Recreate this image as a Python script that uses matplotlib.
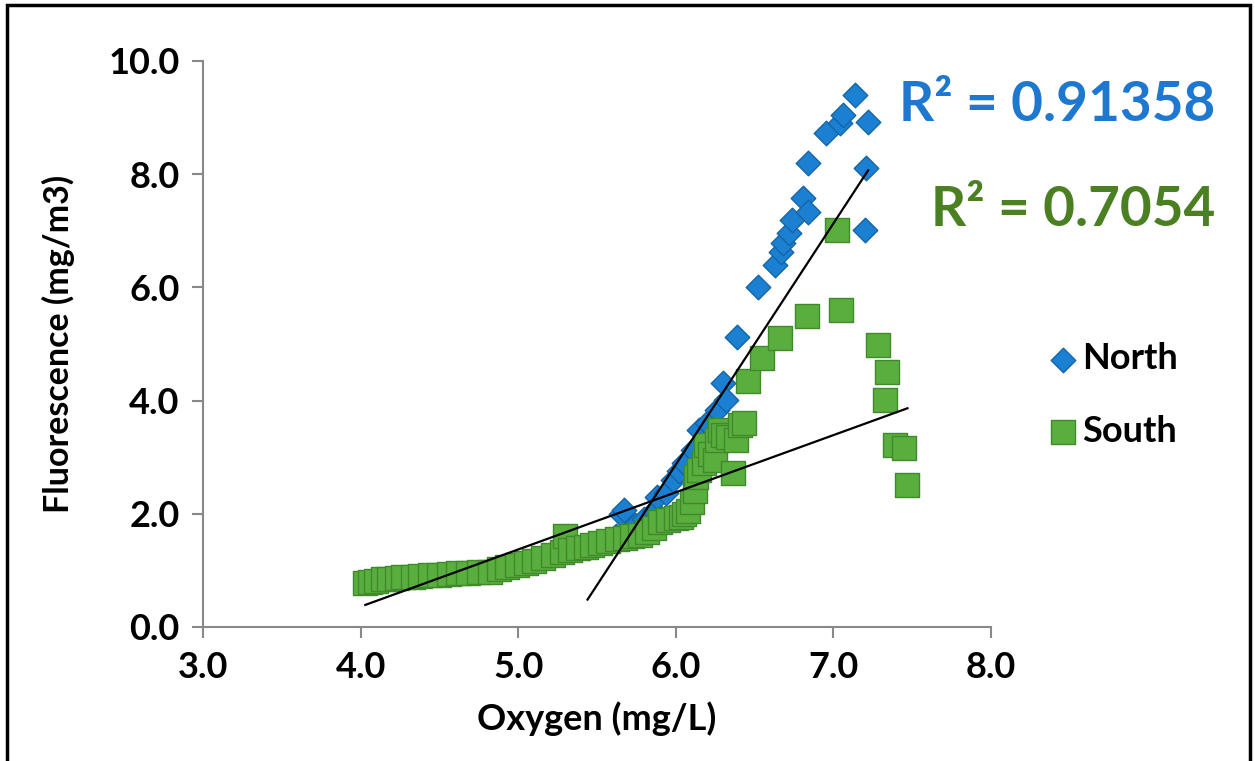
import matplotlib
matplotlib.use("Agg")
import matplotlib.pyplot as plt
from matplotlib.patches import Rectangle
import numpy as np

# ---- data ----
north_x = [5.44, 5.50, 5.56, 5.62, 5.65, 5.67, 5.74, 5.80, 5.86, 5.88, 5.94, 5.98,
           6.02, 6.05, 6.11, 6.15, 6.20, 6.26, 6.30, 6.32, 6.39, 6.52, 6.63, 6.67,
           6.68, 6.72, 6.74, 6.81, 6.84, 6.84, 6.95, 7.04, 7.06, 7.14, 7.22, 7.21, 7.20]
north_y = [1.40, 1.45, 1.50, 1.60, 2.00, 2.07, 1.80, 1.90, 2.05, 2.30, 2.37, 2.60,
           2.75, 2.90, 3.13, 3.48, 3.60, 3.83, 4.31, 4.01, 5.12, 6.01, 6.40, 6.63,
           6.78, 6.96, 7.19, 7.58, 7.33, 8.20, 8.73, 8.90, 9.05, 9.40, 8.92, 8.11, 7.01]

south_x = [4.03, 4.06, 4.10, 4.14, 4.18, 4.23, 4.27, 4.33, 4.38, 4.44, 4.50, 4.56,
           4.62, 4.68, 4.75, 4.82, 4.88, 4.93, 4.99, 5.05, 5.10, 5.16, 5.22, 5.28,
           5.30, 5.33, 5.38, 5.43, 5.47, 5.52, 5.57, 5.63, 5.68, 5.72, 5.77, 5.82,
           5.86, 5.90, 5.95, 6.00, 6.03, 6.05, 6.08, 6.10, 6.12, 6.13, 6.15, 6.18,
           6.19, 6.22, 6.25, 6.26, 6.28, 6.30, 6.33, 6.36, 6.38, 6.41, 6.43, 6.46,
           6.55, 6.66, 6.83, 7.02, 7.05, 7.28, 7.34, 7.33, 7.39, 7.45, 7.47]
south_y = [0.78, 0.80, 0.82, 0.84, 0.85, 0.87, 0.88, 0.89, 0.90, 0.91, 0.92, 0.93,
           0.95, 0.96, 0.97, 0.98, 1.02, 1.06, 1.10, 1.13, 1.17, 1.22, 1.28, 1.33,
           1.60, 1.36, 1.39, 1.42, 1.45, 1.48, 1.52, 1.55, 1.58, 1.60, 1.63, 1.68,
           1.75, 1.85, 1.89, 1.92, 1.95, 2.00, 2.05, 2.20, 2.40, 2.65, 2.77, 2.90,
           3.22, 3.05, 2.95, 3.30, 3.48, 3.40, 3.35, 2.72, 3.30, 3.57, 3.60, 4.35,
           4.75, 5.11, 5.49, 7.02, 5.60, 4.98, 4.51, 4.01, 3.22, 3.16, 2.51]

# linear trendlines (slope, intercept) and R^2 labels as shown
north_fit = (4.26, -22.69)
south_fit = (1.01, -3.68)
north_r2 = "R² = 0.91358"
south_r2 = "R² = 0.7054"

x_ticks = [3.0, 4.0, 5.0, 6.0, 7.0, 8.0]
y_ticks = [0.0, 2.0, 4.0, 6.0, 8.0, 10.0]

FONT = "Lato"
plt.rcParams['font.family'] = [FONT, 'DejaVu Sans']

fig = plt.figure(figsize=(12.55, 7.61), dpi=100)
ax = fig.add_axes([203/1255, 1-627/761, (991-203)/1255, (627-61)/761])

blue = "#1C80D2"
blue_edge = "#1565A8"
green = "#5AAE3E"
green_edge = "#3F8A2A"

ax.scatter(north_x, north_y, marker='D', s=12.5**2, c=blue, edgecolors=blue_edge,
           linewidths=1.0, zorder=2, label="North")
ax.scatter(south_x, south_y, marker='s', s=17**2, c=green, edgecolors=green_edge,
           linewidths=1.0, zorder=3, label="South")

nx = np.array([min(north_x), max(north_x)])
ax.plot(nx, north_fit[0]*nx + north_fit[1], color='black', lw=1.6, zorder=4)
sx = np.array([min(south_x), max(south_x)])
ax.plot(sx, south_fit[0]*sx + south_fit[1], color='black', lw=1.6, zorder=4)

ax.set_xlim(3.0, 8.0)
ax.set_ylim(0.0, 10.0)
ax.set_xticks(x_ticks)
ax.set_yticks(y_ticks)
ax.set_xticklabels([f"{v:.1f}" for v in x_ticks])
ax.set_yticklabels([f"{v:.1f}" for v in y_ticks])
for s in ['top', 'right']:
    ax.spines[s].set_visible(False)
for s in ['left', 'bottom']:
    ax.spines[s].set_color('#888888')
    ax.spines[s].set_linewidth(1.5)
ax.tick_params(axis='both', direction='out', length=8, width=1.5, color='#888888',
               labelsize=26, pad=9)
for lab in ax.get_xticklabels() + ax.get_yticklabels():
    lab.set_fontweight('bold')

ax.set_xlabel("Oxygen (mg/L)", fontsize=26, fontweight='bold', labelpad=13)
ax.set_ylabel("Fluorescence (mg/m3)", fontsize=24.5, fontweight='bold', labelpad=24)

fig.text(1215/1255, 1-105/761, north_r2, color="#1F78D0", fontsize=39.5,
         fontweight='bold', ha='right', va='center')
fig.text(1215/1255, 1-210/761, south_r2, color="#4A7F22", fontsize=39.5,
         fontweight='bold', ha='right', va='center')

leg = fig.legend(loc='center left', bbox_to_anchor=(1030/1255, 1-395/761),
                 frameon=False, fontsize=26, handletextpad=0.05, labelspacing=1.1,
                 borderaxespad=0, handlelength=1.0)
for t in leg.get_texts():
    t.set_fontweight('bold')

fig.add_artist(Rectangle((7/1255, -0.02), (1250-7)/1255, 1-5/761+0.02,
                         transform=fig.transFigure, fill=False, edgecolor='black',
                         linewidth=2.5))

fig.savefig("out.png", dpi=100)
